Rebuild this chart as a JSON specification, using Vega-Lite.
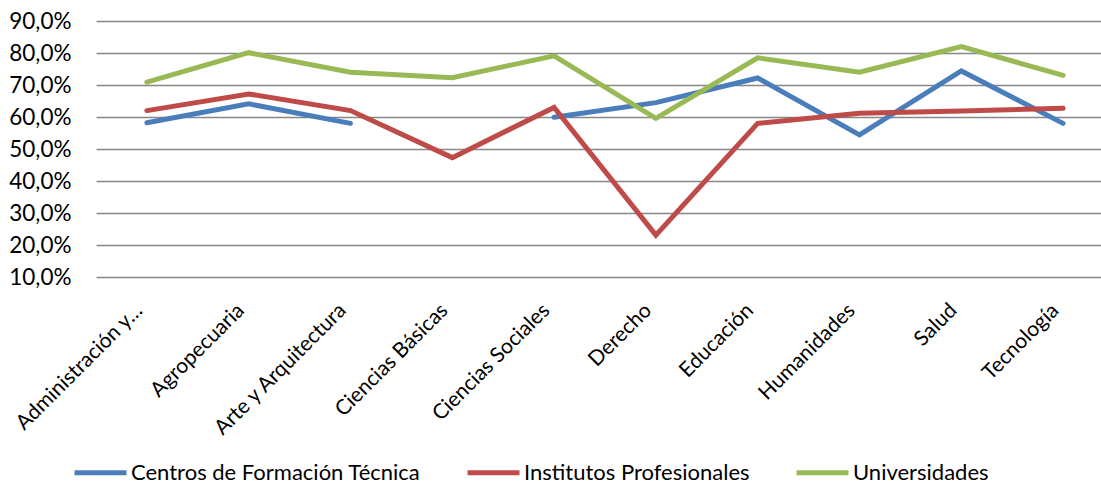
{
  "$schema": "https://vega.github.io/schema/vega-lite/v6.json",
  "width": 1005,
  "height": 256,
  "autosize": {"type": "none"},
  "padding": {"left": 96, "top": 21, "right": 0, "bottom": 210},
  "background": "white",
  "config": {
    "locale": {"number": {"decimal": ",", "thousands": ".", "grouping": [3], "currency": ["", " €"]}},
    "font": "Lato",
    "view": {"stroke": null},
    "axis": {"labelFont": "Lato", "labelFontSize": 21.5, "labelColor": "#000000"}
  },
  "data": {
    "values": [
      {"area": "Administración y…", "tipo": "Centros de Formación Técnica", "valor": 0.582},
      {"area": "Agropecuaria", "tipo": "Centros de Formación Técnica", "valor": 0.641},
      {"area": "Arte y Arquitectura", "tipo": "Centros de Formación Técnica", "valor": 0.580},
      {"area": "Ciencias Básicas", "tipo": "Centros de Formación Técnica", "valor": null},
      {"area": "Ciencias Sociales", "tipo": "Centros de Formación Técnica", "valor": 0.599},
      {"area": "Derecho", "tipo": "Centros de Formación Técnica", "valor": 0.645},
      {"area": "Educación", "tipo": "Centros de Formación Técnica", "valor": 0.722},
      {"area": "Humanidades", "tipo": "Centros de Formación Técnica", "valor": 0.544},
      {"area": "Salud", "tipo": "Centros de Formación Técnica", "valor": 0.744},
      {"area": "Tecnología", "tipo": "Centros de Formación Técnica", "valor": 0.580},
      {"area": "Administración y…", "tipo": "Institutos Profesionales", "valor": 0.620},
      {"area": "Agropecuaria", "tipo": "Institutos Profesionales", "valor": 0.672},
      {"area": "Arte y Arquitectura", "tipo": "Institutos Profesionales", "valor": 0.620},
      {"area": "Ciencias Básicas", "tipo": "Institutos Profesionales", "valor": 0.473},
      {"area": "Ciencias Sociales", "tipo": "Institutos Profesionales", "valor": 0.630},
      {"area": "Derecho", "tipo": "Institutos Profesionales", "valor": 0.231},
      {"area": "Educación", "tipo": "Institutos Profesionales", "valor": 0.580},
      {"area": "Humanidades", "tipo": "Institutos Profesionales", "valor": 0.612},
      {"area": "Salud", "tipo": "Institutos Profesionales", "valor": 0.619},
      {"area": "Tecnología", "tipo": "Institutos Profesionales", "valor": 0.627},
      {"area": "Administración y…", "tipo": "Universidades", "valor": 0.709},
      {"area": "Agropecuaria", "tipo": "Universidades", "valor": 0.801},
      {"area": "Arte y Arquitectura", "tipo": "Universidades", "valor": 0.740},
      {"area": "Ciencias Básicas", "tipo": "Universidades", "valor": 0.723},
      {"area": "Ciencias Sociales", "tipo": "Universidades", "valor": 0.791},
      {"area": "Derecho", "tipo": "Universidades", "valor": 0.596},
      {"area": "Educación", "tipo": "Universidades", "valor": 0.785},
      {"area": "Humanidades", "tipo": "Universidades", "valor": 0.740},
      {"area": "Salud", "tipo": "Universidades", "valor": 0.820},
      {"area": "Tecnología", "tipo": "Universidades", "valor": 0.730}
    ]
  },
  "mark": {"type": "line", "strokeWidth": 5, "strokeCap": "round", "strokeJoin": "miter", "invalid": "break-paths-show-domains"},
  "encoding": {
    "x": {
      "field": "area", "type": "nominal", "sort": null,
      "scale": {"type": "point", "padding": 0.436, "align": 0.573},
      "axis": {"title": null, "labelAngle": -45, "labelAlign": "right", "labelBaseline": "middle", "ticks": false, "domain": false, "grid": false, "labelPadding": 30, "labelOffset": -8, "labelLimit": 400, "labelFontSize": 21}
    },
    "y": {
      "field": "valor", "type": "quantitative",
      "scale": {"domain": [0.1, 0.9], "nice": false, "zero": false},
      "axis": {"title": null, "format": ".1%", "values": [0.1, 0.2, 0.3, 0.4, 0.5, 0.6, 0.7, 0.8, 0.9], "ticks": false, "domain": false, "labelPadding": 25, "labelFontSize": 22.5, "gridColor": "#878787", "gridWidth": 1.6, "gridOpacity": 1}
    },
    "color": {
      "field": "tipo", "type": "nominal",
      "scale": {"domain": ["Centros de Formación Técnica", "Institutos Profesionales", "Universidades"], "range": ["#4A7EBB", "#BE4B48", "#98B954"]},
      "legend": {"title": null, "orient": "none", "legendX": -24, "legendY": 423, "direction": "horizontal", "columns": 3, "symbolType": "stroke", "symbolSize": 2700, "symbolStrokeWidth": 5, "labelFont": "Lato", "labelFontSize": 22, "labelColor": "#000000", "columnPadding": 36, "labelOffset": 2, "labelLimit": 500}
    }
  }
}
